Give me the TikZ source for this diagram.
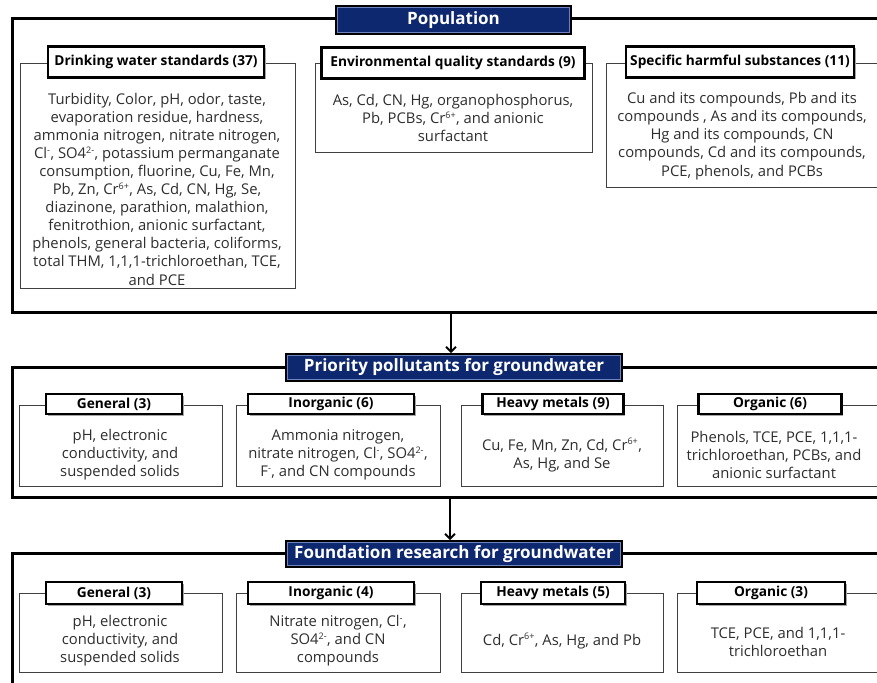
\documentclass[tikz,border=0pt]{standalone}
\usepackage{fontspec}
\setmainfont{Open Sans}
\usetikzlibrary{shadows,arrows.meta}
\definecolor{navy}{RGB}{14,40,112}
\definecolor{navyline}{RGB}{110,130,190}
\newcommand\spx[1]{\textsuperscript{\fontsize{9}{9}\selectfont #1}}
\begin{document}
\begin{tikzpicture}[x=1pt,y=-1pt,
  frame/.style={line width=3pt},
  banner/.style={draw=black,line width=1.6pt,fill=navy,text=white,font=\bfseries\fontsize{17}{20}\selectfont,inner sep=0pt},
  head/.style={draw=black,line width=2.6pt,fill=white,font=\bfseries\fontsize{13.7}{15}\selectfont,inner sep=0pt,
    drop shadow={shadow xshift=1.5pt,shadow yshift=-1.5pt,fill=black!35,opacity=1}},
  panel/.style={draw=black!75,line width=0.9pt,fill=white,inner sep=0pt},
  body/.style={align=center,text=black!82,font=\fontsize{14.8}{18.1}\selectfont,inner sep=0pt},
  arr/.style={line width=2pt,-{Straight Barb[length=5pt,width=10pt]}},
  hl/.style={draw=navyline,line width=0.6pt}
]
\clip (0,0) rectangle (877,682);
\fill[white] (0,0) rectangle (877,682);
% frames
\draw[frame] (890,19) -- (12,19) -- (12,312) -- (890,312);
\draw[frame] (890,367) -- (12,367) -- (12,497) -- (890,497);
\draw[frame] (890,553) -- (12,553) -- (12,700);
% banners
\node[banner,minimum width=235pt,minimum height=28pt] (b1) at (453.5,20) {Population};
\node[banner,minimum width=336pt,minimum height=27pt] (b2) at (454,367.5) {Priority pollutants for groundwater};
\node[banner,minimum width=336pt,minimum height=26pt] (b3) at (454,554) {Foundation research for groundwater};
\foreach \b in {b1,b2,b3}{
  \draw[hl] ([shift={(2.2,2.2)}]\b.north west) rectangle ([shift={(-2.2,-2.2)}]\b.south east);
}
% arrows
\coordinate (a1) at (451,312);
\coordinate (a2) at (450,497);
\draw[arr] (a1) -- (a1 |- b2.north);
\draw[arr] (a2) -- (a2 |- b3.north);
% row 1 panels
\node[panel,minimum width=275pt,minimum height=225pt] (p11) at (157.5,175.5) {};
\node[panel,minimum width=277pt,minimum height=89pt] (p12) at (453.5,107.5) {};
\node[panel,minimum width=280pt,minimum height=124pt] (p13) at (746,125) {};
\node[head,minimum width=216pt,minimum height=31pt] (h11) at (156,62) {Drinking water standards (37)};
\node[head,minimum width=263pt,minimum height=31pt] (h12) at (453,63) {Environmental quality standards (9)};
\node[head,minimum width=228pt,minimum height=31pt] (h13) at (740,62) {Specific harmful substances (11)};
\node[body] (t11) at (157,189) {Turbidity, Color, pH, odor, taste,\\evaporation residue, hardness,\\ammonia nitrogen, nitrate nitrogen,\\Cl\spx{-}, SO4\spx{2-}, potassium permanganate\\consumption, fluorine, Cu, Fe, Mn,\\Pb, Zn, Cr\spx{6+}, As, Cd, CN, Hg, Se,\\diazinone, parathion, malathion,\\fenitrothion, anionic surfactant,\\phenols, general bacteria, coliforms,\\total THM, 1,1,1-trichloroethan, TCE,\\and PCE};
\node[body] (t12) at (453,118) {As, Cd, CN, Hg, organophosphorus,\\Pb, PCBs, Cr\spx{6+}, and anionic\\surfactant};
\node[body] (t13) at (742,136) {Cu and its compounds, Pb and its\\compounds , As and its compounds,\\Hg and its compounds, CN\\compounds, Cd and its compounds,\\PCE, phenols, and PCBs};
% row 2 panels
\node[panel,minimum width=203pt,minimum height=81pt] (p21) at (120.5,445.5) {};
\node[panel,minimum width=204pt,minimum height=81pt] (p22) at (338,445.5) {};
\node[panel,minimum width=202pt,minimum height=81pt] (p23) at (562,445.5) {};
\node[panel,minimum width=203pt,minimum height=81pt] (p24) at (778.5,445.5) {};
\node[head,minimum width=136pt,minimum height=20pt] (h21) at (114,404) {General (3)};
\node[head,minimum width=166pt,minimum height=20pt] (h22) at (331,404) {Inorganic (6)};
\node[head,minimum width=141pt,minimum height=20pt] (h23) at (553,404) {Heavy metals (9)};
\node[head,minimum width=143pt,minimum height=20pt] (h24) at (770,404) {Organic (6)};
\node[body] (t21) at (120,455) {pH, electronic\\conductivity, and\\suspended solids};
\node[body] (t22) at (338,455) {Ammonia nitrogen,\\nitrate nitrogen, Cl\spx{-}, SO4\spx{2-},\\F\spx{-}, and CN compounds};
\node[body] (t23) at (562,455) {Cu, Fe, Mn, Zn, Cd, Cr\spx{6+},\\As, Hg, and Se};
\node[body] (t24) at (774,455) {Phenols, TCE, PCE, 1,1,1-\\trichloroethan, PCBs, and\\anionic surfactant};
% row 3 panels
\node[panel,minimum width=203pt,minimum height=79pt] (p31) at (120.5,632.5) {};
\node[panel,minimum width=204pt,minimum height=79pt] (p32) at (338,632.5) {};
\node[panel,minimum width=202pt,minimum height=79pt] (p33) at (562,632.5) {};
\node[panel,minimum width=203pt,minimum height=79pt] (p34) at (778.5,632.5) {};
\node[head,minimum width=136pt,minimum height=22pt] (h31) at (114,593) {General (3)};
\node[head,minimum width=166pt,minimum height=22pt] (h32) at (331,593) {Inorganic (4)};
\node[head,minimum width=144pt,minimum height=22pt] (h33) at (553,593) {Heavy metals (5)};
\node[head,minimum width=148pt,minimum height=22pt] (h34) at (771,593) {Organic (3)};
\node[body] (t31) at (120,641) {pH, electronic\\conductivity, and\\suspended solids};
\node[body] (t32) at (338,641) {Nitrate nitrogen, Cl\spx{-},\\SO4\spx{2-}, and CN\\compounds};
\node[body] (t33) at (562,641) {Cd, Cr\spx{6+}, As, Hg, and Pb};
\node[body] (t34) at (778,642) {TCE, PCE, and 1,1,1-\\trichloroethan};
\end{tikzpicture}
\end{document}
